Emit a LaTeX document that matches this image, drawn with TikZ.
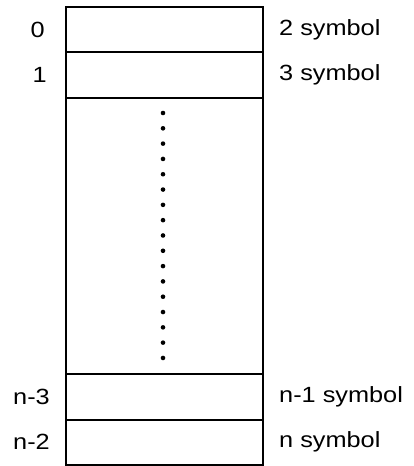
\documentclass[tikz,border=0pt]{standalone}
\usepackage{fontspec}
\newfontfamily\labfont[FakeStretch=1.15]{Liberation Sans}
\begin{document}
\begin{tikzpicture}[x=1pt,y=-1pt,
  cell/.style={draw, line width=1.5pt, minimum width=197pt, inner sep=0pt, outer sep=0pt},
  lab/.style={font=\labfont\fontsize{22}{26}\selectfont, inner sep=0pt},
  dotmark/.style={fill=black}]
\useasboundingbox (0,0) rectangle (413,466);
\node[cell, minimum height=45pt] (c0) at (164.5,29.5) {};
\node[cell, minimum height=46pt] (c1) at (164.5,75) {};
\node[cell, minimum height=276pt] (cm) at (164.5,236) {};
\node[cell, minimum height=46pt] (c3) at (164.5,397) {};
\node[cell, minimum height=45pt] (c4) at (164.5,442.5) {};
\node[lab, anchor=east] (l0) at (45,30) {0};
\node[lab, anchor=east] (l1) at (47,75) {1};
\node[lab, anchor=east] (l3) at (50,397) {n-3};
\node[lab, anchor=east] (l4) at (50,442) {n-2};
\node[lab, anchor=west] (r0) at (279,30) {2 symbol};
\node[lab, anchor=west] (r1) at (279,75) {3 symbol};
\node[lab, anchor=west] (r3) at (279,397) {n-1 symbol};
\node[lab, anchor=west] (r4) at (279,442) {n symbol};
\foreach \i in {0,...,16} \fill[dotmark] (163,113+\i*15.31) circle (2.3pt);
\end{tikzpicture}
\end{document}
